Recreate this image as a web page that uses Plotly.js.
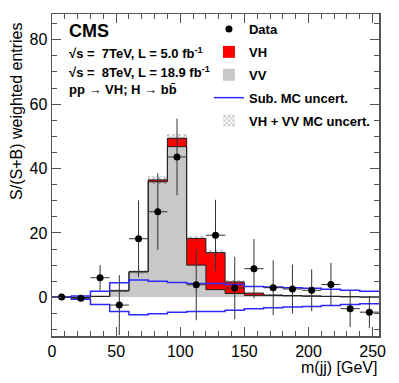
<!DOCTYPE html>
<html>
<head>
<meta charset="utf-8">
<script src="https://cdn.plot.ly/plotly-3.0.1.min.js"></script>
<style>
  html, body { margin: 0; padding: 0; background: #fff; }
  #grafica { width: 399px; height: 383px; }
</style>
</head>
<body>
<div id="grafica"></div>
<script>
// bins de 15 GeV
const binEdges = [0, 15, 30, 45, 60, 75, 90, 105, 120, 135, 150, 165, 180, 195, 210, 225, 240, 255];
const binCenters = [7.5, 22.5, 37.5, 52.5, 67.5, 82.5, 97.5, 112.5, 127.5, 142.5, 157.5, 172.5, 187.5, 202.5, 217.5, 232.5, 247.5];

const dataY = [0.1, -0.3, 6.1, -2.4, 18.2, 26.6, 43.6, 3.9, 19.3, 2.9, 8.9, 3.0, 2.6, 2.2, 4.0, -3.5, -4.6];
const dataErr = [0.5, 0.6, 3.9, 9.3, 11.9, 11.9, 11.9, 11.0, 11.0, 9.7, 9.2, 8.5, 7.6, 6.5, 6.7, 5.7, 5.0];

const vv = [0, 0, 0.3, 2.0, 7.9, 35.9, 46.8, 10.0, 2.4, 1.2, 0.6, 0.6, 0.5, 0.4, 0.3, 0.2, 0.1];
const vh = [0, 0, 0, 0.05, 0.1, 0.6, 2.6, 8.3, 11.5, 3.6, 0.7, 0.1, 0.05, 0, 0, 0, 0];
const mcUnc = [0, 0, 0.2, 0.5, 0.6, 1.2, 1.3, 0.8, 0.7, 0.5, 0.3, 0.2, 0.2, 0.2, 0.1, 0.1, 0.1];

const subUp = [0, 0.4, 1.9, 4.5, 5.4, 5.0, 4.6, 4.3, 4.3, 4.0, 3.4, 3.2, 3.0, 2.8, 2.5, 2.2, 1.9];
const subDown = [0, -0.6, -2.2, -4.4, -5.4, -5.1, -4.6, -4.4, -4.4, -4.0, -3.5, -3.2, -3.0, -2.8, -2.5, -2.2, -2.0];

const fuente = 'Liberation Sans, Arial, Helvetica, sans-serif';

function escalon(valores) {
  return [...valores, valores[valores.length - 1]];
}

const total = vv.map((v, i) => v + vh[i]);

const trazaVV = {
  x: binCenters, y: vv, base: 0, type: 'bar', width: 15,
  name: 'VV', legendgroup: 'g3', legendrank: 3,
  marker: { color: '#c8c8c8', line: { width: 0 } },
  hoverinfo: 'skip'
};

const trazaVH = {
  x: binCenters, y: vh, base: vv, type: 'bar', width: 15,
  name: 'VH', legendgroup: 'g2', legendrank: 2,
  marker: { color: '#ff0000', line: { width: 0 } },
  hoverinfo: 'skip'
};

const trazaUnc = {
  x: binCenters, y: mcUnc.map(u => 2 * u), base: total.map((t, i) => t - mcUnc[i]),
  type: 'bar', width: 15,
  name: 'VH + VV MC uncert.', legendgroup: 'g5', legendrank: 5,
  marker: {
    color: 'rgba(0,0,0,0)',
    line: { width: 0 },
    pattern: { shape: 'x', fillmode: 'overlay', fgcolor: '#555', size: 4, solidity: 0.4 }
  },
  hoverinfo: 'skip'
};

const lineaVV = {
  x: binEdges, y: escalon(vv), type: 'scatter', mode: 'lines',
  line: { shape: 'hv', color: '#222', width: 1 }, showlegend: false, hoverinfo: 'skip'
};

const lineaTotal = {
  x: binEdges, y: escalon(total), type: 'scatter', mode: 'lines',
  line: { shape: 'hv', color: '#222', width: 1 }, showlegend: false, hoverinfo: 'skip'
};

const trazaSubUp = {
  x: binEdges, y: escalon(subUp), type: 'scatter', mode: 'lines',
  name: 'Sub. MC uncert.', legendgroup: 'g4', legendrank: 4,
  line: { shape: 'hv', color: '#2b2bff', width: 1.5 }, hoverinfo: 'skip'
};

const trazaSubDown = {
  x: binEdges, y: escalon(subDown), type: 'scatter', mode: 'lines',
  showlegend: false, legendgroup: 'g4',
  line: { shape: 'hv', color: '#2b2bff', width: 1.5 }, hoverinfo: 'skip'
};

const trazaData = {
  x: binCenters, y: dataY, type: 'scatter', mode: 'markers',
  name: 'Data', legendgroup: 'g1', legendrank: 1,
  marker: { color: '#000', size: 7 },
  error_y: { type: 'data', array: dataErr, visible: true, color: '#333', thickness: 1, width: 0 },
  error_x: { type: 'constant', value: 7.5, visible: true, color: '#333', thickness: 1, width: 0 },
  hoverinfo: 'skip'
};

const ejeComun = {
  showline: true, linecolor: '#555', linewidth: 1.5, mirror: 'allticks',
  ticks: 'inside', ticklen: 9, tickcolor: '#555', tickwidth: 1,
  showgrid: false, zeroline: false,
  tickfont: { family: fuente, size: 16, color: '#000' }
};

const layout = {
  width: 399, height: 383,
  margin: { l: 52, r: 20, t: 14, b: 47 },
  paper_bgcolor: '#fff', plot_bgcolor: '#fff',
  barmode: 'overlay', bargap: 0,
  showlegend: true,
  font: { family: fuente, color: '#000' },
  xaxis: {
    ...ejeComun,
    range: [0, 255], dtick: 50, tick0: 0,
    minor: { dtick: 10, ticks: 'inside', ticklen: 5, tickcolor: '#555' }
  },
  yaxis: {
    ...ejeComun,
    range: [-12, 88], dtick: 20, tick0: 0,
    minor: { dtick: 5, ticks: 'inside', ticklen: 5, tickcolor: '#555' }
  },
  legend: {
    x: 0.48, y: 1.0, xanchor: 'left', yanchor: 'top',
    bgcolor: 'rgba(0,0,0,0)', borderwidth: 0,
    font: { family: fuente, size: 13, weight: 'bold', color: '#000' },
    traceorder: 'grouped', tracegroupgap: 3, itemwidth: 30
  },
  annotations: [
    { xref: 'paper', yref: 'paper', x: 0.045, y: 0.947, xanchor: 'left', yanchor: 'middle',
      text: 'CMS', showarrow: false, font: { family: fuente, size: 18, weight: 'bold' } },
    { xref: 'paper', yref: 'paper', x: 0.045, y: 0.879, xanchor: 'left', yanchor: 'middle',
      text: '√s =  7TeV, L = 5.0 fb<sup>-1</sup>', showarrow: false,
      font: { family: fuente, size: 13, weight: 'bold' } },
    { xref: 'paper', yref: 'paper', x: 0.045, y: 0.820, xanchor: 'left', yanchor: 'middle',
      text: '√s =  8TeV, L = 18.9 fb<sup>-1</sup>', showarrow: false,
      font: { family: fuente, size: 13, weight: 'bold' } },
    { xref: 'paper', yref: 'paper', x: 0.045, y: 0.764, xanchor: 'left', yanchor: 'middle',
      text: 'pp → VH; H → bb̄', showarrow: false,
      font: { family: fuente, size: 13, weight: 'bold' } },
    { xref: 'paper', yref: 'paper', x: -0.107, y: 0.696, xanchor: 'center', yanchor: 'middle',
      text: 'S/(S+B) weighted entries', textangle: -90, showarrow: false,
      font: { family: fuente, size: 16 } },
    { xref: 'paper', yref: 'paper', x: 1.0, y: -0.099, xanchor: 'right', yanchor: 'middle',
      text: 'm(jj) [GeV]', showarrow: false,
      font: { family: fuente, size: 16 } }
  ]
};

Plotly.newPlot('grafica',
  [trazaVV, trazaVH, lineaVV, lineaTotal, trazaUnc, trazaSubUp, trazaSubDown, trazaData],
  layout,
  { displayModeBar: false, staticPlot: true }
);
</script>
</body>
</html>
